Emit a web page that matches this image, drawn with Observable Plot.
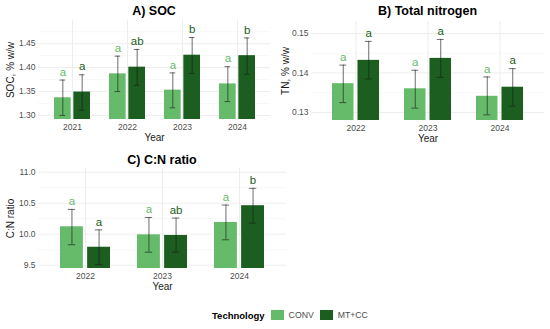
<!DOCTYPE html>
<html><head><meta charset="utf-8">
<script src="https://cdn.jsdelivr.net/npm/d3@7"></script>
<script src="https://cdn.jsdelivr.net/npm/@observablehq/plot@0.6"></script>
<style>
body{margin:0;background:#fff;font-family:"Liberation Sans",Arial,sans-serif;}
#root{position:relative;width:550px;height:329px;overflow:hidden;background:#fff;}
.panel{position:absolute;}
.title{position:absolute;text-align:center;font-weight:bold;font-size:12.5px;color:#000;line-height:14px;white-space:nowrap;}
#legend{position:absolute;left:212px;top:309px;display:flex;align-items:center;height:12px;white-space:nowrap;}
#legend .lt{font-weight:bold;font-size:9.5px;color:#000;}
#legend .sw{width:13px;height:10px;margin-left:6px;}
#legend .lab{font-size:8.7px;color:#4d4d4d;margin-left:5px;}
</style></head>
<body><div id="root"></div>
<script>
// ---------- data ----------
const techs = ["CONV", "MT+CC"];
const colors = ["#66bb6a", "#1b5e20"];

// A) SOC
const socYears = ["2021", "2022", "2023", "2024"];
const socConv = [1.337, 1.387, 1.353, 1.366];
const socConvLo = [1.300, 1.350, 1.316, 1.329];
const socConvHi = [1.374, 1.424, 1.389, 1.402];
const socMt = [1.349, 1.401, 1.426, 1.425];
const socMtLo = [1.311, 1.363, 1.388, 1.386];
const socMtHi = [1.385, 1.438, 1.463, 1.462];
const socConvLetters = ["a", "a", "a", "a"];
const socMtLetters = ["a", "ab", "b", "b"];
const socTicks = [1.30, 1.35, 1.40, 1.45];
const socMinor = [1.325, 1.375, 1.425, 1.475];

// B) Total nitrogen
const tnYears = ["2022", "2023", "2024"];
const tnConv = [0.1373, 0.1360, 0.1341];
const tnConvLo = [0.1325, 0.1311, 0.1294];
const tnConvHi = [0.1420, 0.1407, 0.1390];
const tnMt = [0.1432, 0.1437, 0.1364];
const tnMtLo = [0.1385, 0.1389, 0.1316];
const tnMtHi = [0.1480, 0.1485, 0.1411];
const tnConvLetters = ["a", "a", "a"];
const tnMtLetters = ["a", "a", "a"];
const tnTicks = [0.13, 0.14, 0.15];
const tnMinor = [0.135, 0.145];

// C) C:N ratio
const cnYears = ["2022", "2023", "2024"];
const cnConv = [10.12, 9.99, 10.19];
const cnConvLo = [9.83, 9.71, 9.91];
const cnConvHi = [10.40, 10.27, 10.47];
const cnMt = [9.79, 9.98, 10.46];
const cnMtLo = [9.51, 9.71, 10.18];
const cnMtHi = [10.07, 10.26, 10.74];
const cnConvLetters = ["a", "a", "a"];
const cnMtLetters = ["a", "ab", "b"];
const cnTicks = [9.5, 10.0, 10.5, 11.0];
const cnMinor = [9.75, 10.25, 10.75];

// ---------- drawing ----------
const root = document.getElementById("root");

function table(years, v, lo, hi, let_) {
  return years.map((year, i) => ({year, value: v[i], lo: lo[i], hi: hi[i], letter: let_[i]}));
}

function panel(o) {
  const conv = table(o.years, o.conv, o.convLo, o.convHi, o.convLet);
  const mt = table(o.years, o.mt, o.mtLo, o.mtHi, o.mtLet);
  const plotW = o.width - o.mL - o.mR;
  const s = plotW / (o.years.length + 0.2);
  const grid = "#ebebeb";
  const series = [[conv, colors[0], -1], [mt, colors[1], 1]];
  const marks = [
    Plot.ruleY(o.minor, {stroke: "#f2f2f2", strokeWidth: 0.6}),
    Plot.gridY(o.ticks, {stroke: grid, strokeOpacity: 1, strokeWidth: 0.9}),
    Plot.gridX({stroke: grid, strokeOpacity: 1, strokeWidth: 0.9}),
    Plot.axisY(o.ticks, {tickSize: 0, tickPadding: 3, tickFormat: o.fmt, fontSize: 8.5, fill: "#4d4d4d", label: null}),
    Plot.axisX({tickSize: 0, tickPadding: 4, fontSize: 8.5, fill: "#4d4d4d", label: null})
  ];
  for (const [d, c, side] of series) {
    marks.push(Plot.barY(d, {x: "year", y: "value", fill: c, clip: true,
      insetLeft: side > 0 ? 0.35 * s : 0, insetRight: side < 0 ? 0.35 * s : 0}));
  }
  for (const [d, c, side] of series) {
    const dx = side * 0.175 * s;
    marks.push(Plot.ruleX(d, {x: "year", y1: "lo", y2: "hi", dx, stroke: "#1a1a1a", strokeOpacity: 0.8, strokeWidth: 0.8}));
    const capIn = side < 0 ? [0.1 * s, 0.45 * s] : [0.45 * s, 0.1 * s];
    for (const k of ["lo", "hi"]) {
      marks.push(Plot.tickY(d, {x: "year", y: k, insetLeft: capIn[0], insetRight: capIn[1], stroke: "#1a1a1a", strokeOpacity: 0.8, strokeWidth: 0.8}));
    }
    marks.push(Plot.text(d, {x: "year", y: "hi", text: "letter", dx, dy: -8, fill: c, fontSize: 11.5}));
  }
  marks.push(Plot.text([o.yLabel], {frameAnchor: "left", textAnchor: "middle", dx: -o.labDx, rotate: -90, fontSize: 10, fill: "#1a1a1a"}));
  marks.push(Plot.text(["Year"], {frameAnchor: "bottom", dy: 21, fontSize: 10, fill: "#1a1a1a"}));

  const svg = Plot.plot({
    width: o.width, height: o.height,
    marginLeft: o.mL, marginRight: o.mR, marginTop: o.mT, marginBottom: o.mB,
    style: {fontFamily: "'Liberation Sans', Arial, sans-serif", background: "transparent", overflow: "visible"},
    x: {type: "band", domain: o.years, paddingInner: 0.35, paddingOuter: 0.275},
    y: {domain: o.yDomain},
    marks
  });
  const div = document.createElement("div");
  div.className = "panel";
  div.style.left = o.left + "px";
  div.style.top = o.top + "px";
  div.appendChild(svg);
  root.appendChild(div);

  const t = document.createElement("div");
  t.className = "title";
  t.textContent = o.title;
  t.style.left = (o.left + o.mL) + "px";
  t.style.width = plotW + "px";
  t.style.top = o.titleTop + "px";
  root.appendChild(t);
}

panel({title: "A) SOC", years: socYears, conv: socConv, convLo: socConvLo, convHi: socConvHi, convLet: socConvLetters,
  mt: socMt, mtLo: socMtLo, mtHi: socMtHi, mtLet: socMtLetters, ticks: socTicks, minor: socMinor,
  fmt: d3.format(".2f"), yDomain: [1.2916, 1.4985], yLabel: "SOC, % w/w", labDx: 28,
  left: 0, top: 0, width: 275, height: 146, mL: 38, mR: 5, mT: 20, mB: 27, titleTop: 4});

panel({title: "B) Total nitrogen", years: tnYears, conv: tnConv, convLo: tnConvLo, convHi: tnConvHi, convLet: tnConvLetters,
  mt: tnMt, mtLo: tnMtLo, mtHi: tnMtHi, mtLet: tnMtLetters, ticks: tnTicks, minor: tnMinor,
  fmt: d3.format(".2f"), yDomain: [0.12797, 0.15304], yLabel: "TN, % w/w", labDx: 26,
  left: 275, top: 0, width: 275, height: 146, mL: 36, mR: 6, mT: 21, mB: 26, titleTop: 4});

panel({title: "C) C:N ratio", years: cnYears, conv: cnConv, convLo: cnConvLo, convHi: cnConvHi, convLet: cnConvLetters,
  mt: cnMt, mtLo: cnMtLo, mtHi: cnMtHi, mtLet: cnMtLetters, ticks: cnTicks, minor: cnMinor,
  fmt: d3.format(".1f"), yDomain: [9.447, 11.06], yLabel: "C:N ratio", labDx: 28,
  left: 0, top: 150, width: 300, height: 145, mL: 38, mR: 14, mT: 18, mB: 27, titleTop: 153});

// legend
const lg = document.createElement("div");
lg.id = "legend";
let html = '<span class="lt">Technology</span>';
techs.forEach((t, i) => {
  html += `<span class="sw" style="background:${colors[i]}"></span><span class="lab">${t}</span>`;
});
lg.innerHTML = html;
root.appendChild(lg);
</script>
</body></html>
